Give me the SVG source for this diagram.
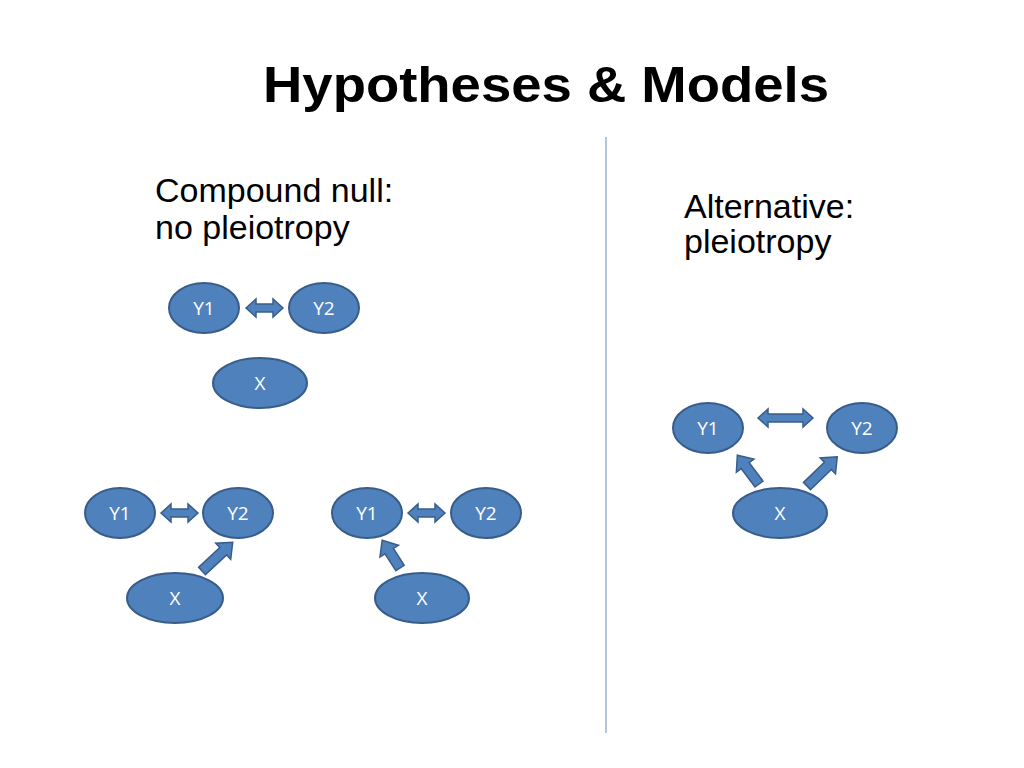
<svg xmlns="http://www.w3.org/2000/svg" width="1024" height="768" viewBox="0 0 1024 768">
<style>
.n{fill:#4F81BD;stroke:#385D8A;stroke-width:2}
.a{fill:#4F81BD;stroke:#385D8A;stroke-width:1.5;stroke-linejoin:miter}
.l{fill:#FFFFFF;font-family:"Open Sans","Liberation Sans",sans-serif;font-size:19px;text-anchor:middle}
.t{fill:#000000;font-family:"Liberation Sans",Arial,sans-serif;font-size:34px}
</style>
<defs>
<path id="dbl" d="M0,0 L10,-9 L10,-4 L27,-4 L27,-9 L37,0 L27,9 L27,4 L10,4 L10,9 Z"/>
</defs>
<rect width="1024" height="768" fill="#FFFFFF"/>
<text x="546" y="102" font-family="'Liberation Sans',Arial,sans-serif" font-weight="bold" font-size="50" text-anchor="middle" textLength="566" lengthAdjust="spacingAndGlyphs">Hypotheses &amp; Models</text>
<text class="t" x="155" y="202">Compound null:</text>
<text class="t" x="155" y="239">no pleiotropy</text>
<text class="t" x="684" y="218">Alternative:</text>
<text class="t" x="684" y="253">pleiotropy</text>
<line x1="606" y1="137" x2="606" y2="733" stroke="#9DB3CF" stroke-width="1.5"/>

<g id="connectors">
<use href="#dbl" class="a" transform="translate(246,308)"/>
<use href="#dbl" class="a" transform="translate(161,513)"/>
<use href="#dbl" class="a" transform="translate(408,513)"/>
<path class="a" d="M758,418 L768,409 L768,414 L803,414 L803,409 L813,418 L803,427 L803,422 L768,422 L768,427 Z"/>
<polygon class="a" points="0,-5 29,-5 29,-11 42,0 29,11 29,5 0,5" transform="translate(202,571) rotate(-43)"/>
<polygon class="a" points="0,-5 20,-5 20,-11 33,0 20,11 20,5 0,5" transform="translate(400,568) rotate(-122.7)"/>
<polygon class="a" points="0,-5 23,-5 23,-11 36,0 23,11 23,5 0,5" transform="translate(759,484) rotate(-127)"/>
<polygon class="a" points="0,-5 29,-5 29,-11 42,0 29,11 29,5 0,5" transform="translate(807,486) rotate(-44)"/>
</g>

<g id="null-Y1"><ellipse class="n" cx="204" cy="308" rx="35" ry="25"/><text class="l" x="204" y="315">Y1</text></g>
<g id="null-Y2"><ellipse class="n" cx="324" cy="308" rx="35" ry="25"/><text class="l" x="324" y="315">Y2</text></g>
<g id="null-X"><ellipse class="n" cx="260" cy="383" rx="47" ry="25"/><text class="l" x="260" y="390">X</text></g>

<g id="a-Y1"><ellipse class="n" cx="120" cy="513" rx="35" ry="25"/><text class="l" x="120" y="520">Y1</text></g>
<g id="a-Y2"><ellipse class="n" cx="238" cy="513" rx="35" ry="25"/><text class="l" x="238" y="520">Y2</text></g>
<g id="a-X"><ellipse class="n" cx="175" cy="598" rx="48" ry="25"/><text class="l" x="175" y="605">X</text></g>

<g id="b-Y1"><ellipse class="n" cx="367" cy="513" rx="35" ry="25"/><text class="l" x="367" y="520">Y1</text></g>
<g id="b-Y2"><ellipse class="n" cx="486" cy="513" rx="35" ry="25"/><text class="l" x="486" y="520">Y2</text></g>
<g id="b-X"><ellipse class="n" cx="422" cy="598" rx="47" ry="25"/><text class="l" x="422" y="605">X</text></g>

<g id="alt-Y1"><ellipse class="n" cx="708" cy="428" rx="35" ry="25"/><text class="l" x="708" y="435">Y1</text></g>
<g id="alt-Y2"><ellipse class="n" cx="862" cy="428" rx="35" ry="25"/><text class="l" x="862" y="435">Y2</text></g>
<g id="alt-X"><ellipse class="n" cx="780" cy="513" rx="47" ry="25"/><text class="l" x="780" y="520">X</text></g>
</svg>
